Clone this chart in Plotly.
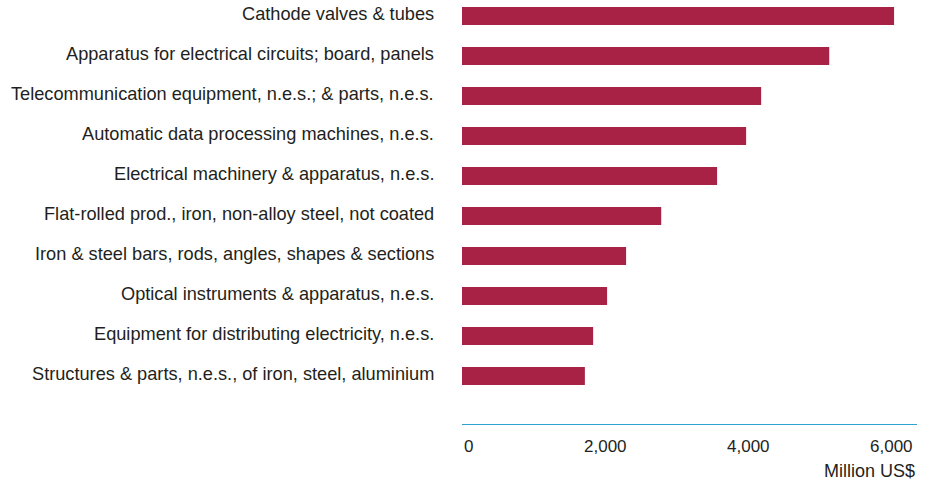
import plotly.graph_objects as go

# Product groups, top to bottom
products = [
    "Cathode valves & tubes",
    "Apparatus for electrical circuits; board, panels",
    "Telecommunication equipment, n.e.s.; & parts, n.e.s.",
    "Automatic data processing machines, n.e.s.",
    "Electrical machinery & apparatus, n.e.s.",
    "Flat-rolled prod., iron, non-alloy steel, not coated",
    "Iron & steel bars, rods, angles, shapes & sections",
    "Optical instruments & apparatus, n.e.s.",
    "Equipment for distributing electricity, n.e.s.",
    "Structures & parts, n.e.s., of iron, steel, aluminium",
]
# Values in million US$
values = [6030, 5125, 4175, 3965, 3560, 2780, 2290, 2025, 1830, 1715]

tick_values = [0, 2000, 4000, 6000]
tick_labels = ["0", "2,000", "4,000", "6,000"]
unit_label = "Million US$"

BAR = "#A82245"
TEXT = "#231F20"
FONT = "Liberation Sans"

fig = go.Figure(
    go.Bar(
        x=values,
        y=products,
        orientation="h",
        marker=dict(color=BAR, line=dict(width=0)),
        width=0.45,
        hoverinfo="x+y",
    )
)

annotations = []
# Category labels, right-aligned left of the bars
for p in products:
    annotations.append(dict(
        x=0, y=p, xref="paper", yref="y",
        text=p, showarrow=False,
        xanchor="right", yanchor="middle",
        xshift=-26, yshift=2,
        font=dict(family=FONT, size=18.2, color=TEXT),
    ))
# Value axis tick labels
for v, t in zip(tick_values, tick_labels):
    annotations.append(dict(
        x=v, y=0, xref="x", yref="paper",
        text=t, showarrow=False,
        xanchor="left" if v == 0 else "center",
        yanchor="top", yshift=-11,
        font=dict(family=FONT, size=17, color=TEXT),
    ))
annotations.append(dict(
    x=1, y=0, xref="paper", yref="paper",
    text=unit_label, showarrow=False,
    xanchor="right", yanchor="top", yshift=-35,
    font=dict(family=FONT, size=18, color=TEXT),
))

fig.update_layout(
    width=929, height=483,
    margin=dict(l=462, r=12, t=0, b=59),
    paper_bgcolor="white", plot_bgcolor="white",
    showlegend=False,
    font=dict(family=FONT, size=18, color=TEXT),
    xaxis=dict(
        range=[0, 6350],
        showgrid=False, zeroline=False,
        showline=True, linecolor="#2EA3D0", linewidth=1,
        showticklabels=False, ticks="",
        fixedrange=True,
    ),
    yaxis=dict(
        type="category",
        categoryorder="array", categoryarray=products,
        range=[10.2, -0.4],
        showgrid=False, zeroline=False, showline=False,
        showticklabels=False, ticks="",
        fixedrange=True,
    ),
    annotations=annotations,
)

fig.write_html("out.html")
